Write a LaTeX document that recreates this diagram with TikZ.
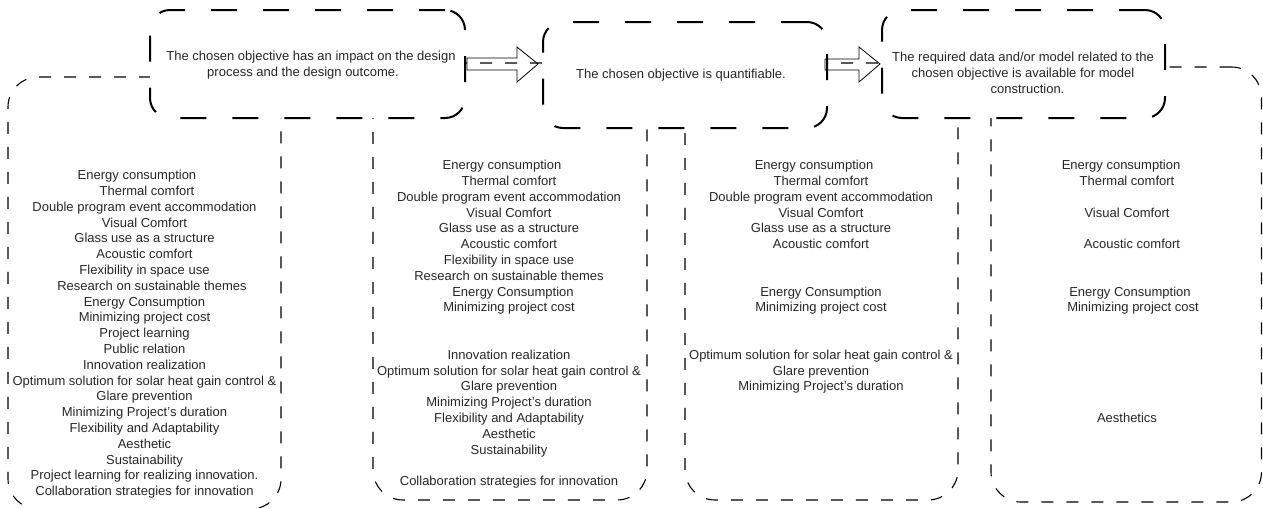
\documentclass[tikz,border=0pt]{standalone}
\usepackage{fontspec}
\setmainfont{Liberation Sans}
\begin{document}
\begin{tikzpicture}[x=1pt,y=-1pt,
  topbox/.style={draw=black, line width=2pt, dash pattern=on 26pt off 26pt, rounded corners=20pt, fill=white, inner sep=0pt, outer sep=0pt},
  lowbox/.style={draw=black, line width=1.1pt, dash pattern=on 12pt off 13pt, rounded corners=30pt, inner sep=0pt, outer sep=0pt},
  txt/.style={font=\fontsize{13}{15.8}\selectfont, align=center, inner sep=0pt, text=black!85},
  blockarrow/.style={draw=black, line width=0.8pt, line join=miter}]
\useasboundingbox (0,0) rectangle (1263,507);
% lower boxes
\node[lowbox, minimum width=273pt, minimum height=432pt] (L1) at (144.5,293) {};
\node[lowbox, minimum width=274pt, minimum height=437pt] (L2) at (510,281.5) {};
\node[lowbox, minimum width=273pt, minimum height=437pt] (L3) at (821.5,281.5) {};
\node[lowbox, minimum width=270.5pt, minimum height=435pt] (L4) at (1126.25,284.5) {};
% top boxes
\node[topbox, minimum width=315pt, minimum height=108pt] (A) at (307.5,64) {};
\node[topbox, minimum width=284pt, minimum height=106pt] (B) at (685,75) {};
\node[topbox, minimum width=283pt, minimum height=108pt] (C) at (1023.5,64) {};
% texts in top boxes
\node[txt] (tA) at (311,65) {The chosen objective has an impact on the design\\process and the design outcome.\hspace*{16pt}};
\node[txt] (tB) at (681,75) {The chosen objective is quantifiable.};
\node[txt] (tC) at (1023,73) {The required data and/or model related to the\\chosen objective is available for model\\\hspace*{9pt}construction.};
% arrows
\draw[blockarrow, shift={(A.east)}] (2,-6) -- (52,-6) -- (52,-17) -- (73,0) -- (52,18) -- (52,6) -- (2,6) -- cycle;
\draw[blockarrow, shift={(C.west)}] (-57,-5) -- (-23,-5) -- (-23,-17) -- (-2,0) -- (-23,18) -- (-23,6) -- (-57,6) -- cycle;
% lists
\node[txt, anchor=north] (T1) at (144.5,170) {Energy consumption\hspace*{15pt}\\
\hspace*{5pt}Thermal comfort\\
Double program event accommodation\hspace*{15pt}\\
Visual Comfort\hspace*{15pt}\\
Glass use as a structure\\
Acoustic comfort\hspace*{15pt}\\
Flexibility in space use\hspace*{15pt}\\
\hspace*{15pt}Research on sustainable themes\\
Energy Consumption\\
Minimizing project cost\\
Project learning\\
Public relation\\
Innovation realization\\
Optimum solution for solar heat gain control \&\\
Glare prevention\\
Minimizing Project’s duration\\
Flexibility and Adaptability\\
Aesthetic\\
Sustainability\\
Project learning for realizing innovation.\\
Collaboration strategies for innovation};
\node[txt, anchor=north] (T2) at (509,160) {Energy consumption\hspace*{14pt}\\
Thermal comfort\\
Double program event accommodation\\
Visual Comfort\\
Glass use as a structure\\
Acoustic comfort\\
Flexibility in space use\hspace*{32pt}\\
Research on sustainable themes\\
\hspace*{8pt}Energy Consumption\\
Minimizing project cost\\
\mbox{}\\
\mbox{}\\
Innovation realization\\
Optimum solution for solar heat gain control \&\\
Glare prevention\\
Minimizing Project’s duration\\
Flexibility and Adaptability\\
Aesthetic\\
Sustainability\\
\mbox{}\\
Collaboration strategies for innovation};
\node[txt, anchor=north] (T3) at (821,160) {Energy consumption\hspace*{14pt}\\
Thermal comfort\\
Double program event accommodation\hspace*{12pt}\\
Visual Comfort\\
Glass use as a structure\\
Acoustic comfort\\
\mbox{}\\
\mbox{}\\
Energy Consumption\\
Minimizing project cost\\
\mbox{}\\
\mbox{}\\
Optimum solution for solar heat gain control \&\\
Glare prevention\\
Minimizing Project’s duration};
\node[txt, anchor=north] (T4) at (1127,160) {Energy consumption\hspace*{12pt}\\
Thermal comfort\\
\mbox{}\\
Visual Comfort\\
\mbox{}\\
\hspace*{10pt}Acoustic comfort\\
\mbox{}\\
\mbox{}\\
\hspace*{6pt}Energy Consumption\\
\hspace*{12pt}Minimizing project cost\\
\mbox{}\\
\mbox{}\\
\mbox{}\\
\mbox{}\\
\mbox{}\\
\mbox{}\\
Aesthetics};
\end{tikzpicture}
\end{document}
